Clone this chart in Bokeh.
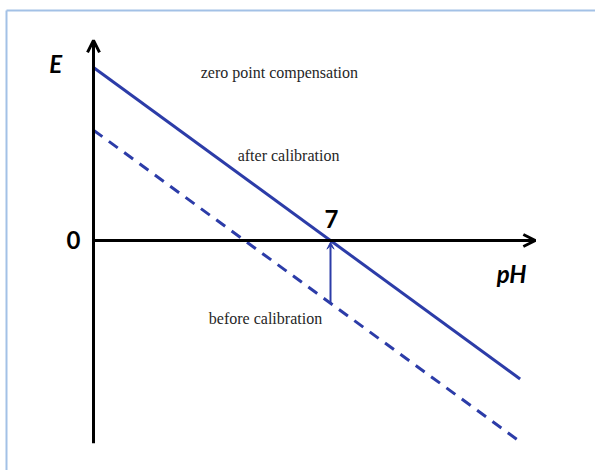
from bokeh.plotting import figure
from bokeh.models import Arrow, OpenHead, VeeHead, Range1d, Label
from bokeh.embed import file_html
from bokeh.resources import INLINE

# Nernst response of an electrode, E in mV versus pH (slope -59.16 mV/pH)
ph = [0.0, 12.6]
e_after = [414.0, -331.4]      # after calibration: E = 0 at pH 7
e_before = [264.0, -481.4]     # before calibration: offset of -150 mV
ph_zero = 7.0
e_offset = -150.0
x_tick_label = "7"
y_tick_label = "0"

BLUE = "#2C3CA8"

p = figure(width=595, height=470, output_backend="svg", toolbar_location=None,
           x_range=Range1d(-2.747, 14.827), y_range=Range1d(-550.4, 574.3),
           min_border=0, outline_line_color=None)
p.axis.visible = False
p.grid.visible = False
p.background_fill_color = "white"
p.border_fill_color = "white"

# panel frame (left and top edges)
p.segment(x0=[-2.57, -2.57], y0=[550.4, 550.4], x1=[-2.57, 15.0], y1=[-560, 550.4],
          line_color="#A3C1E6", line_width=2)

# lines
p.line(ph, e_after, line_color=BLUE, line_width=3)
p.line(ph, e_before, line_color=BLUE, line_width=3, line_dash="11 8")

# axes drawn as arrows
p.add_layout(Arrow(end=OpenHead(size=12, line_width=3, line_color="black"),
                   x_start=0, y_start=-485, x_end=0, y_end=479,
                   line_color="black", line_width=3))
p.add_layout(Arrow(end=OpenHead(size=12, line_width=3, line_color="black"),
                   x_start=0, y_start=0, x_end=13.05, y_end=0,
                   line_color="black", line_width=3))

# zero point shift
p.add_layout(Arrow(end=VeeHead(size=7, line_color=BLUE, fill_color=BLUE),
                   x_start=ph_zero, y_start=e_offset, x_end=ph_zero, y_end=-4,
                   line_color=BLUE, line_width=2))

big = dict(text_font="Lato", text_font_size="24px", text_font_style="bold",
           text_color="black", text_align="center", text_baseline="middle")
p.add_layout(Label(x=-1.12, y=423.6, text="E", **{**big, "text_font_style": "bold italic"}))
p.add_layout(Label(x=-0.59, y=2.0, text=y_tick_label, **big))
p.add_layout(Label(x=7.03, y=52.6, text=x_tick_label, **big))
p.add_layout(Label(x=12.35, y=-80.0, text="pH", **{**big, "text_font_style": "bold italic"}))

small = dict(text_font="Liberation Serif", text_font_size="16px",
             text_color="#262626", text_align="center", text_baseline="middle")
p.add_layout(Label(x=5.49, y=402.0, text="zero point compensation", **small))
p.add_layout(Label(x=5.82, y=203.4, text="after  calibration", **small))
p.add_layout(Label(x=5.08, y=-186.7, text="before calibration", **small))

open("out.html", "w").write(file_html(p, INLINE))
